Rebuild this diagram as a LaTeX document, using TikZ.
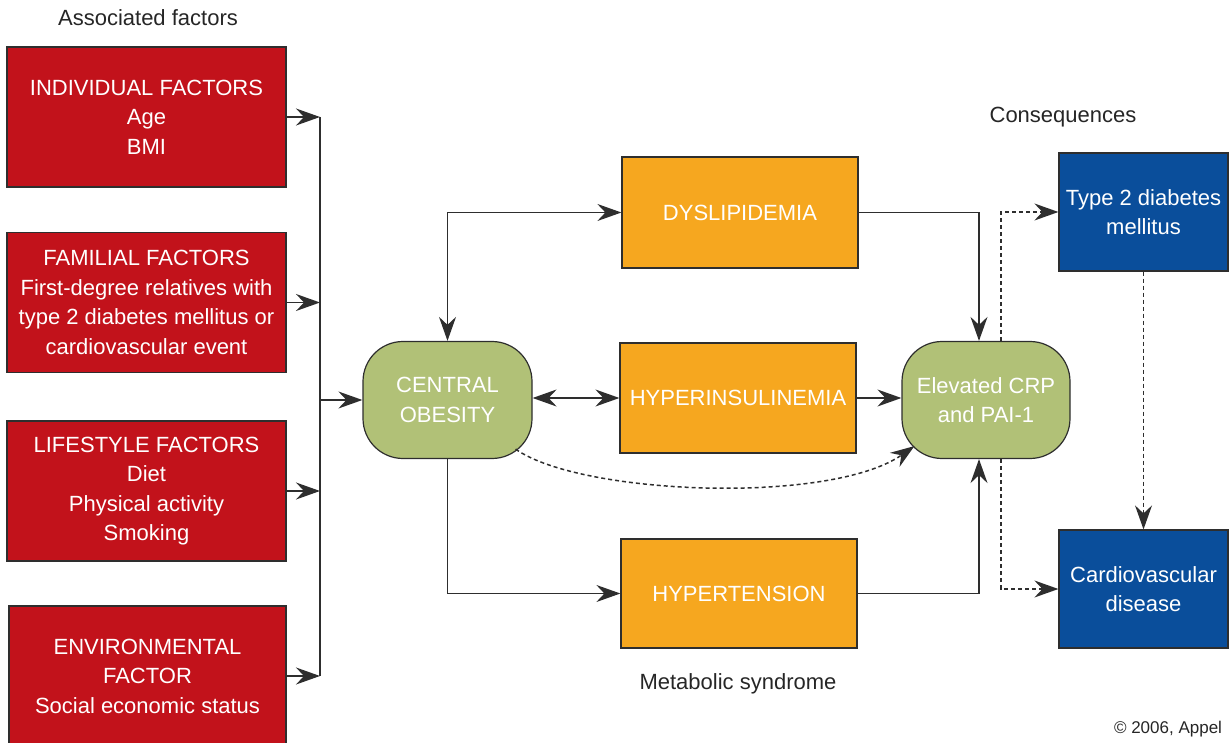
\documentclass[tikz,border=0pt]{standalone}
\usepackage{fontspec}
\setmainfont{Liberation Sans}
\usetikzlibrary{arrows.meta}
\definecolor{boxred}{HTML}{C2121B}
\definecolor{boxorange}{HTML}{F6A71F}
\definecolor{boxgreen}{HTML}{B1C177}
\definecolor{boxblue}{HTML}{0A4E9B}
\definecolor{linegray}{HTML}{2E2E2E}
\begin{document}
\begin{tikzpicture}[x=1pt,y=-1pt,
  every node/.style={font=\fontsize{22}{29.5}\selectfont, inner sep=0pt},
  basebox/.style={draw=linegray, line width=1.2pt, text=white, align=center, minimum width=#1},
  redbox/.style={basebox=279pt, fill=boxred, minimum height=140pt},
  orangebox/.style={basebox=236pt, fill=boxorange, minimum height=111pt},
  greenbox/.style={basebox=169pt, fill=boxgreen, minimum height=117pt, rounded corners=40pt},
  bluebox/.style={basebox=169pt, fill=boxblue, minimum height=118pt},
  tip/.tip={Stealth[length=24pt,width=17pt,inset=8pt]},
  conn/.style={draw=linegray, line width=1.5pt, -tip},
  dconn/.style={conn, dash pattern=on 4pt off 3pt},
  biconn/.style={conn, tip-tip},
  label/.style={text=black!85}
]
\useasboundingbox (0,0) rectangle (1232,743);

% associated factors
\node[label] (hassoc) at (148,18) {Associated factors};
\node[redbox] (ind) at (146.5,117) {INDIVIDUAL FACTORS\\Age\\BMI};
\node[redbox] (fam) at (146.5,302.5) {FAMILIAL FACTORS\\First-degree relatives with\\type 2 diabetes mellitus or\\cardiovascular event};
\node[redbox] (life) at (146.5,491) {LIFESTYLE FACTORS\\Diet\\Physical activity\\Smoking};
\node[redbox, minimum width=277pt] (env) at (147.5,676) {ENVIRONMENTAL\\FACTOR\\Social economic status};

% metabolic syndrome
\node[greenbox] (obes) at (447.5,400) {CENTRAL\\OBESITY};
\node[orangebox] (dys) at (740,212.5) {DYSLIPIDEMIA};
\node[orangebox, minimum height=110pt] (hins) at (738,398) {HYPERINSULINEMIA};
\node[orangebox, minimum height=109pt] (hten) at (739,593.5) {HYPERTENSION};
\node[greenbox, minimum width=168pt] (crp) at (986,400) {Elevated CRP\\and PAI-1};
\node[label] (hmet) at (738,684) {Metabolic syndrome};

% consequences
\node[label] (hcons) at (1063,117) {Consequences};
\node[bluebox] (t2d) at (1143.5,212) {Type 2 diabetes\\mellitus};
\node[bluebox] (cvd) at (1143.5,589) {Cardiovascular\\disease};
\node[label, font=\fontsize{17}{20}\selectfont] (copy) at (1168,729) {© 2006, Appel};

% bus
\coordinate (bustop) at (320,117);
\coordinate (busbot) at (320,676);
\draw[draw=linegray, line width=1.5pt] (bustop) -- (busbot);
\draw[conn] (ind.east) -- (ind.east -| bustop);
\draw[conn] (fam.east) -- (fam.east -| bustop);
\draw[conn] (life.east) -- (life.east -| bustop);
\draw[conn] (env.east) -- (env.east -| bustop);
\draw[conn] (obes.west -| bustop) -- (obes.west);

% metabolic links
\draw[biconn] (obes.north) |- (dys.west);
\draw[biconn] (hins.west -| obes.east) -- (hins.west);
\draw[conn] (obes.south) |- (hten.west);
\draw[conn] (dys.east) -| ([xshift=-7pt]crp.north);
\draw[conn] (hins.east) -- (hins.east -| crp.west);
\draw[conn] (hten.east) -| ([xshift=-7pt]crp.south);
\draw[dconn] ([shift={(-17,-10)}]obes.south east) .. controls (580,495) and (830,505) .. ([shift={(13,-13)}]crp.south west);

% consequences links
\draw[dconn] ([xshift=15pt]crp.north) |- (t2d.west);
\draw[dconn] ([xshift=15pt]crp.south) |- (cvd.west);
\draw[dconn] (t2d.south) -- (cvd.north);
\end{tikzpicture}
\end{document}
